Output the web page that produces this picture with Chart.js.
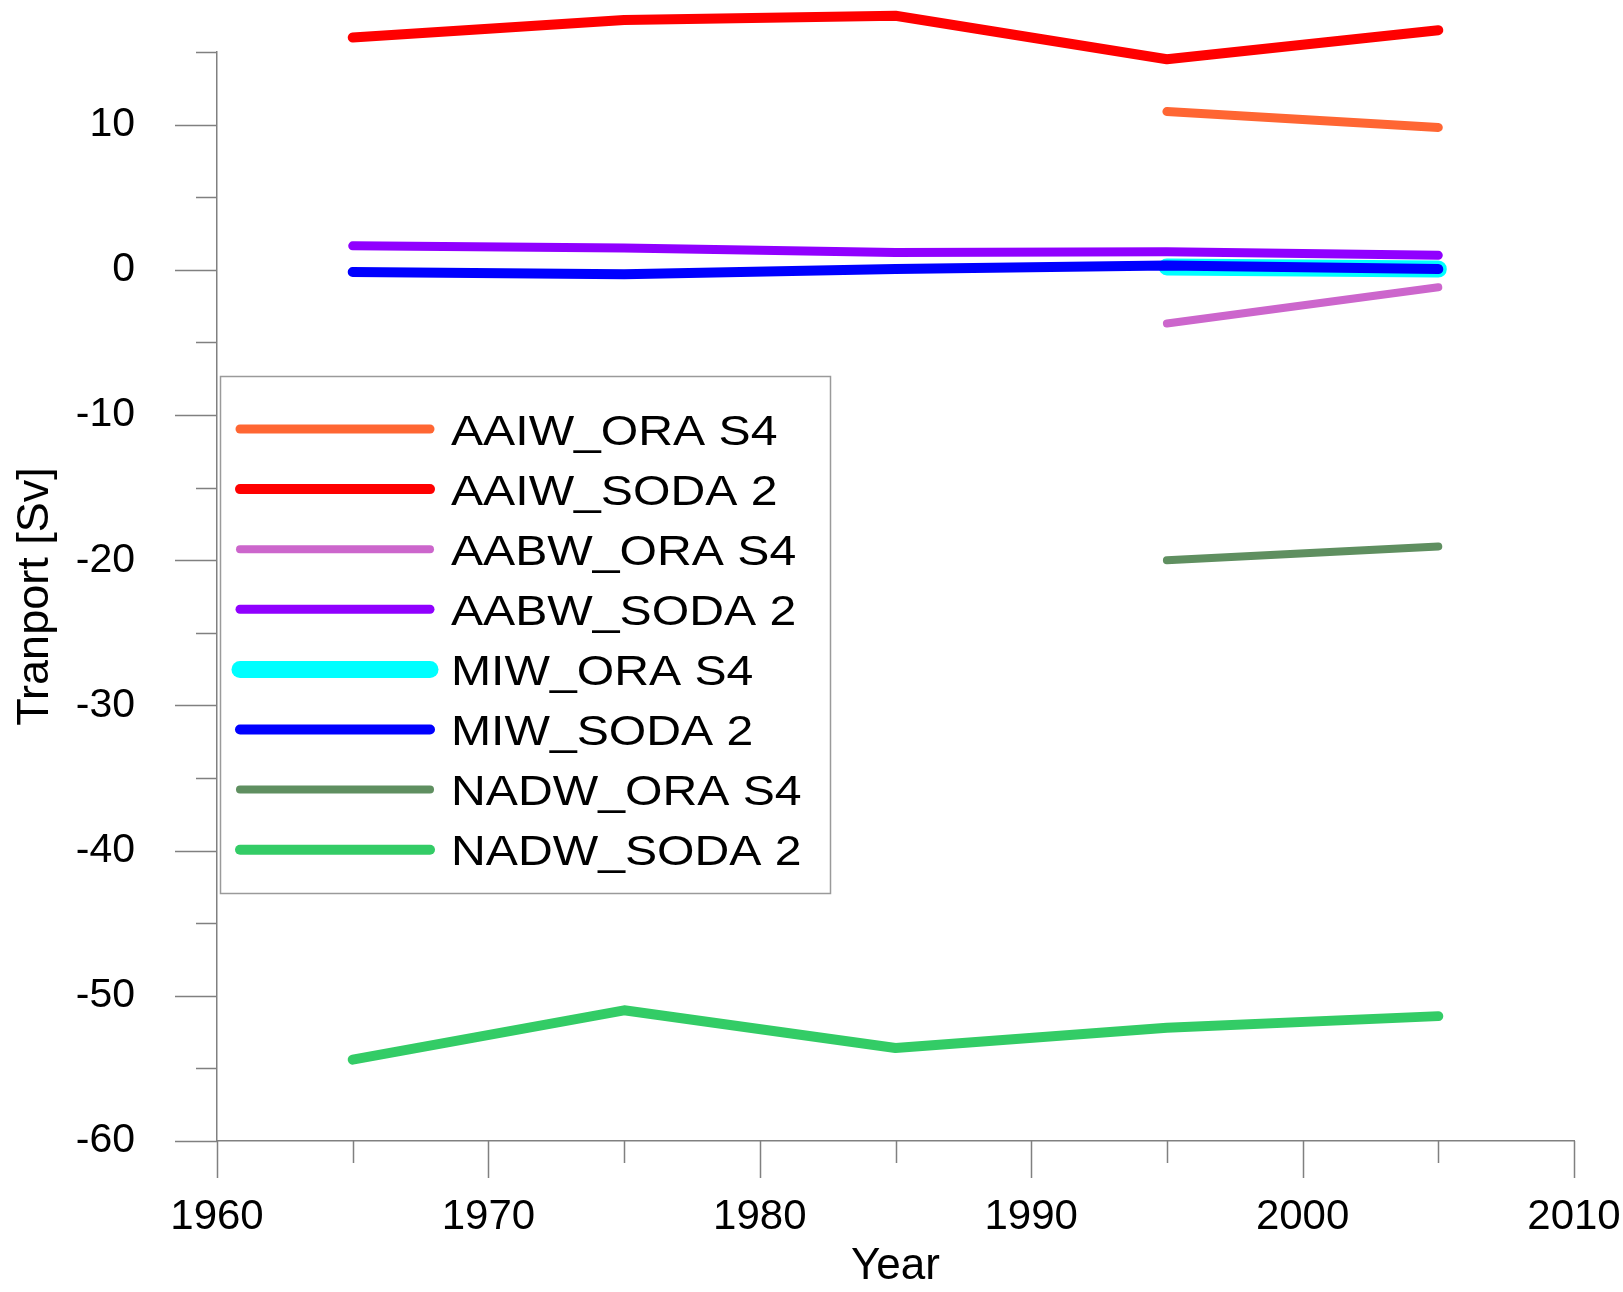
<!DOCTYPE html>
<html>
<head>
<meta charset="utf-8">
<script src="https://cdn.jsdelivr.net/npm/chart.js@4/dist/chart.umd.min.js"></script>
<style>
  html, body { margin: 0; padding: 0; background: #fff; }
  #wrap { width: 1623px; height: 1292px; position: relative; }
</style>
</head>
<body>
<div id="wrap"><canvas id="transportChart"></canvas></div>
<script>
// Values (Sv), one entry per decade centre
const years = [1965, 1975, 1985, 1995, 2005];
const aaiwOra = [null, null, null, 10.9, 9.8];
const aaiwSoda = [16.0, 17.2, 17.5, 14.5, 16.5];
const aabwOra = [null, null, null, -3.7, -1.2];
const aabwSoda = [1.65, 1.5, 1.2, 1.25, 1.0];
const miwOra = [null, null, null, 0.2, 0.05];
const miwSoda = [-0.15, -0.3, 0.05, 0.3, 0.05];
const nadwOra = [null, null, null, -20.0, -19.05];
const nadwSoda = [-54.4, -51.0, -53.6, -52.2, -51.4];

const seriesNames = ["AAIW_ORA S4", "AAIW_SODA 2", "AABW_ORA S4", "AABW_SODA 2",
                     "MIW_ORA S4", "MIW_SODA 2", "NADW_ORA S4", "NADW_SODA 2"];
const seriesValues = [aaiwOra, aaiwSoda, aabwOra, aabwSoda, miwOra, miwSoda, nadwOra, nadwSoda];
const seriesColors = ["#ff6633", "#ff0000", "#cc66cc", "#9000ff",
                      "#00ffff", "#0000ff", "#5f8f60", "#33cc66"];
const seriesWidths = [9, 10, 8, 9, 17, 10, 8, 10];

const axisColor = "#808080";
const fontFamily = "'Liberation Sans', Arial, sans-serif";

const datasets = seriesNames.map((name, i) => ({
  label: name,
  data: years.map((x, j) => ({ x: x, y: seriesValues[i][j] })),
  borderColor: seriesColors[i],
  backgroundColor: seriesColors[i],
  borderWidth: seriesWidths[i],
  borderCapStyle: "round",
  borderJoinStyle: "round",
  pointRadius: 0,
  tension: 0,
  fill: false,
  clip: false,
  // keep the wide cyan line underneath the blue one
  order: name === "MIW_ORA S4" ? 1 : 0
}));

// Tick marks: long ones at labelled values, short ones in between
const tickMarks = {
  id: "tickMarks",
  afterDraw(chart) {
    const ctx = chart.ctx;
    const xs = chart.scales.x;
    const ys = chart.scales.y;
    const area = chart.chartArea;
    ctx.save();
    ctx.strokeStyle = axisColor;
    ctx.lineWidth = 1.5;
    ctx.beginPath();
    for (let v = ys.min; v <= ys.max; v += 5) {
      const y = Math.round(ys.getPixelForValue(v)) + 0.5;
      const len = v % 10 === 0 ? 42 : 21;
      ctx.moveTo(area.left - len, y);
      ctx.lineTo(area.left, y);
    }
    for (let v = xs.min; v <= xs.max; v += 5) {
      const x = Math.round(xs.getPixelForValue(v)) + 0.5;
      const len = v % 10 === 0 ? 37 : 22;
      ctx.moveTo(x, area.bottom);
      ctx.lineTo(x, area.bottom + len);
    }
    ctx.stroke();
    ctx.restore();
  }
};

// Boxed legend sitting inside the plot, like the original figure
const boxLegend = {
  id: "boxLegend",
  afterDraw(chart) {
    const ctx = chart.ctx;
    const box = { x: 220, y: 376, w: 610, h: 517 };
    const firstRow = 429;
    const rowStep = 60.1;
    ctx.save();
    ctx.fillStyle = "#ffffff";
    ctx.fillRect(box.x, box.y, box.w, box.h);
    ctx.strokeStyle = "#9a9a9a";
    ctx.lineWidth = 1.5;
    ctx.strokeRect(box.x + 0.5, box.y + 0.5, box.w, box.h);

    chart.data.datasets.forEach((ds, i) => {
      const y = firstRow + i * rowStep;
      ctx.strokeStyle = ds.borderColor;
      ctx.lineWidth = ds.borderWidth;
      ctx.lineCap = "round";
      ctx.beginPath();
      ctx.moveTo(240, y);
      ctx.lineTo(430, y);
      ctx.stroke();

      ctx.save();
      ctx.translate(451, y + 15.5);
      ctx.scale(1.12, 1);
      ctx.fillStyle = "#000";
      ctx.font = "43px " + fontFamily;
      ctx.textAlign = "left";
      ctx.textBaseline = "alphabetic";
      ctx.fillText(ds.label, 0, 0);
      ctx.restore();
    });
    ctx.restore();
  }
};

new Chart(document.getElementById("transportChart").getContext("2d"), {
  type: "line",
  data: { datasets: datasets },
  options: {
    responsive: true,
    maintainAspectRatio: false,
    animation: false,
    layout: { padding: { top: 52, right: 49, left: 0, bottom: 0 } },
    plugins: {
      legend: { display: false },
      tooltip: { enabled: false }
    },
    scales: {
      x: {
        type: "linear",
        min: 1960,
        max: 2010,
        afterFit: (scale) => {
          scale.height = 151;
          scale.paddingLeft = 0;
          scale.paddingRight = 0;
        },
        ticks: {
          stepSize: 5,
          autoSkip: false,
          maxRotation: 0,
          padding: 51,
          color: "#000",
          font: { family: fontFamily, size: 42 },
          callback: (v) => (v % 10 === 0 ? String(v) : "")
        },
        grid: { display: true, drawOnChartArea: false, drawTicks: false },
        border: { display: true, color: axisColor, width: 1.5 },
        title: {
          display: true,
          text: "Year",
          color: "#000",
          font: { family: fontFamily, size: 44, lineHeight: 1 },
          padding: { top: 0, bottom: 3 }
        }
      },
      y: {
        min: -60,
        max: 15,
        afterFit: (scale) => {
          scale.width = 217;
          scale.paddingTop = 0;
          scale.paddingBottom = 0;
        },
        ticks: {
          stepSize: 5,
          autoSkip: false,
          padding: 82,
          color: "#000",
          font: { family: fontFamily, size: 41 },
          callback: (v) => (v % 10 === 0 ? String(v) : "")
        },
        grid: { display: true, drawOnChartArea: false, drawTicks: false },
        border: { display: true, color: axisColor, width: 1.5 },
        title: {
          display: true,
          text: "Tranport [Sv]",
          color: "#000",
          font: { family: fontFamily, size: 45, lineHeight: 1 },
          padding: { top: 13, bottom: 0 }
        }
      }
    }
  },
  plugins: [tickMarks, boxLegend]
});
</script>
</body>
</html>
